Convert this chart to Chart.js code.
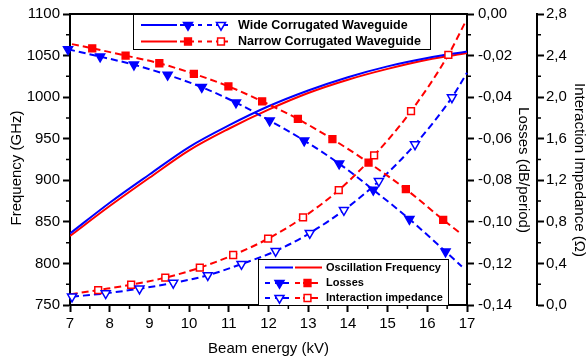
<!DOCTYPE html>
<html>
<head>
<meta charset="utf-8">
<script src="https://cdn.jsdelivr.net/npm/chart.js@4.4.1/dist/chart.umd.min.js"></script>
<style>
  html, body { margin: 0; padding: 0; background: #fff; }
  #wrap { width: 587px; height: 362px; }
</style>
</head>
<body>
<div id="wrap"><canvas id="chart"></canvas></div>
<script>
const FONT = `"Liberation Sans", Arial, sans-serif`
const BLUE = `#0000ff`
const RED = `#ff0000`

// oscillation frequency (GHz), read at whole kV
const beamEnergy = [7, 8, 9, 10, 11, 12, 13, 14, 15, 16, 17]
const wideFreq = [836, 873, 907, 940, 966, 989, 1008, 1024, 1037, 1047, 1055]
const narrowFreq = [833, 869, 903, 936, 962, 985, 1005, 1021, 1034, 1045, 1053]

// losses (dB/period)
const wideLossX = [6.95, 7.76, 8.61, 9.46, 10.32, 11.18, 12.03, 12.9, 13.78, 14.64, 15.55, 16.46]
const wideLossY = [-0.017, -0.0205, -0.0244, -0.0293, -0.0352, -0.0426, -0.0513, -0.0609, -0.072, -0.0846, -0.0987, -0.1143]
const narrowLossX = [7.56, 8.4, 9.25, 10.12, 10.99, 11.84, 12.74, 13.61, 14.52, 15.46, 16.4]
const narrowLossY = [-0.0165, -0.02, -0.0237, -0.0288, -0.0348, -0.042, -0.0505, -0.0602, -0.0715, -0.0843, -0.099]

// interaction impedance (ohm)
const wideImpX = [7.05, 7.9, 8.75, 9.6, 10.47, 11.32, 12.18, 13.04, 13.9, 14.78, 15.69, 16.62]
const wideImpY = [0.08, 0.112, 0.157, 0.212, 0.286, 0.394, 0.519, 0.692, 0.913, 1.192, 1.545, 1.997]
const narrowImpX = [7.71, 8.54, 9.4, 10.27, 11.11, 11.99, 12.87, 13.77, 14.66, 15.59, 16.53]
const narrowImpY = [0.144, 0.195, 0.263, 0.359, 0.481, 0.638, 0.843, 1.106, 1.439, 1.865, 2.407]

// where the dashed fit lines start / stop beyond the markers
const wideLossTail = [16.87, -0.1215]
const narrowLossHead = [7.05, -0.0145]
const narrowLossTail = [16.82, -0.1053]
const wideImpTail = [17.0, 2.234]
const narrowImpHead = [7.02, 0.103]
const narrowImpTail = [16.97, 2.731]

const pts = (xs, ys) => xs.map((x, i) => ({ x, y: ys[i] }))
const pt = (p) => ({ x: p[0], y: p[1] })

const solid = (label, data, color) => ({
  label, data, yAxisID: `y`, borderColor: color, borderWidth: 2,
  pointRadius: 0, tension: 0.4, cubicInterpolationMode: `monotone`, order: 2,
})
const dashed = (label, data, color, axis) => ({
  label, data, yAxisID: axis, borderColor: color, borderWidth: 2, borderDash: [7, 4],
  pointRadius: 0, cubicInterpolationMode: `monotone`, order: 1, clip: 8,
})
const marks = (label, data, color, axis, style, filled) => ({
  label, data, yAxisID: axis, showLine: false, order: 0, clip: 8,
  pointStyle: style, pointRotation: style === `triangle` ? 180 : 0,
  pointRadius: style === `triangle` ? 5.2 : 4.8,
  pointBackgroundColor: filled ? color : `#fff`, pointBorderColor: color, pointBorderWidth: 1.5,
})

const data = {
  datasets: [
    solid(`Wide freq`, pts(beamEnergy, wideFreq), BLUE),
    solid(`Narrow freq`, pts(beamEnergy, narrowFreq), RED),
    dashed(`Wide loss`, [...pts(wideLossX, wideLossY), pt(wideLossTail)], BLUE, `y1`),
    dashed(`Narrow loss`, [pt(narrowLossHead), ...pts(narrowLossX, narrowLossY), pt(narrowLossTail)], RED, `y1`),
    dashed(`Wide imp`, [...pts(wideImpX, wideImpY), pt(wideImpTail)], BLUE, `y2`),
    dashed(`Narrow imp`, [pt(narrowImpHead), ...pts(narrowImpX, narrowImpY), pt(narrowImpTail)], RED, `y2`),
    marks(`Wide loss pts`, pts(wideLossX, wideLossY), BLUE, `y1`, `triangle`, true),
    marks(`Narrow loss pts`, pts(narrowLossX, narrowLossY), RED, `y1`, `rect`, true),
    marks(`Wide imp pts`, pts(wideImpX, wideImpY), BLUE, `y2`, `triangle`, false),
    marks(`Narrow imp pts`, pts(narrowImpX, narrowImpY), RED, `y2`, `rect`, false),
  ],
}

const comma = (d) => (v) => (Math.abs(v) < 1e-9 ? 0 : v).toFixed(d).replace(`.`, `,`)

const axisBase = (extra) => ({
  type: `linear`,
  border: { color: `#000`, width: 2 },
  grid: { drawOnChartArea: false, tickLength: 7, tickWidth: 2, tickColor: `#000` },
  ...extra,
})

// small helpers for the hand drawn bits
function seg(ctx, x1, x2, y, color) {
  ctx.beginPath()
  ctx.moveTo(x1, y)
  ctx.lineTo(x2, y)
  ctx.strokeStyle = color
  ctx.lineWidth = 2
  ctx.stroke()
}
function marker(ctx, kind, x, y, color, filled) {
  ctx.beginPath()
  if (kind === `tri`) {
    const r = 5.2
    ctx.moveTo(x - r * 0.866, y - r / 2)
    ctx.lineTo(x + r * 0.866, y - r / 2)
    ctx.lineTo(x, y + r)
    ctx.closePath()
  } else {
    ctx.rect(x - 3.4, y - 3.4, 6.8, 6.8)
  }
  ctx.fillStyle = filled ? color : `#fff`
  ctx.fill()
  ctx.lineWidth = 1.5
  ctx.strokeStyle = color
  ctx.stroke()
}
function vtitle(ctx, text, x, y, angle) {
  ctx.save()
  ctx.translate(x, y)
  ctx.rotate(angle)
  ctx.fillText(text, 0, 0)
  ctx.restore()
}

const decor = {
  id: `decor`,
  afterDraw(chart) {
    const { ctx, chartArea: a, scales } = chart
    ctx.save()
    // top frame line
    ctx.beginPath()
    ctx.moveTo(a.left - 1, a.top)
    ctx.lineTo(a.right + 1, a.top)
    ctx.lineWidth = 2
    ctx.strokeStyle = `#000`
    ctx.stroke()

    // minor ticks
    ctx.lineWidth = 1.5
    ctx.beginPath()
    for (let v = 7.5; v < 17; v += 1) {
      const p = scales.x.getPixelForValue(v)
      ctx.moveTo(p, a.bottom); ctx.lineTo(p, a.bottom + 4)
    }
    for (let v = 775; v < 1100; v += 50) {
      const p = scales.y.getPixelForValue(v)
      ctx.moveTo(a.left - 4, p); ctx.lineTo(a.left, p)
    }
    for (let v = -0.13; v < 0; v += 0.02) {
      const p = scales.y1.getPixelForValue(v)
      ctx.moveTo(a.right, p); ctx.lineTo(a.right + 4, p)
    }
    for (let v = 0.2; v < 2.8; v += 0.4) {
      const p = scales.y2.getPixelForValue(v)
      ctx.moveTo(scales.y2.left, p); ctx.lineTo(scales.y2.left + 4, p)
    }
    ctx.stroke()

    // axis titles
    ctx.fillStyle = `#000`
    ctx.font = `15px ${FONT}`
    ctx.textAlign = `center`
    ctx.textBaseline = `middle`
    ctx.fillText(`Beam energy (kV)`, (a.left + a.right) / 2, 349)
    vtitle(ctx, `Frequency (GHz)`, 17, 168, -Math.PI / 2)
    vtitle(ctx, `Losses (dB/period)`, 523, 170, Math.PI / 2)
    vtitle(ctx, `Interaction Impedance (\u03A9)`, 579, 170, Math.PI / 2)

    // top legend box
    ctx.fillStyle = `#fff`
    ctx.fillRect(133, 14, 298, 36)
    ctx.lineWidth = 1
    ctx.strokeStyle = `#000`
    ctx.strokeRect(133.5, 14.5, 297, 35)
    const rows = [[25, BLUE, `tri`, `Wide Corrugated Waveguide`], [41.5, RED, `sq`, `Narrow Corrugated Waveguide`]]
    for (const [y, c, k, text] of rows) {
      seg(ctx, 141, 177, y, c)
      seg(ctx, 180, 194, y, c)
      seg(ctx, 198, 202, y, c)
      seg(ctx, 207, 212, y, c)
      seg(ctx, 216, 228, y, c)
      marker(ctx, k, 188, y, c, true)
      marker(ctx, k, 221, y, c, false)
      ctx.fillStyle = `#000`
      ctx.font = `bold 12.5px ${FONT}`
      ctx.textAlign = `left`
      ctx.fillText(text, 238, y + 0.5)
    }

    // bottom legend box
    ctx.fillStyle = `#fff`
    ctx.fillRect(258, 259, 191, 46)
    ctx.lineWidth = 1
    ctx.strokeStyle = `#000`
    ctx.strokeRect(258.5, 259.5, 190, 46)
    seg(ctx, 265, 293, 267.5, BLUE)
    seg(ctx, 295, 322, 267.5, RED)
    const rows2 = [[283, true, `Losses`], [298, false, `Interaction impedance`]]
    for (const [y, filled] of rows2) {
      seg(ctx, 265, 270, y, BLUE)
      seg(ctx, 275, 289, y, BLUE)
      marker(ctx, `tri`, 279.5, y, BLUE, filled)
      seg(ctx, 295, 300, y, RED)
      seg(ctx, 303, 318, y, RED)
      marker(ctx, `sq`, 307.5, y, RED, filled)
    }
    ctx.fillStyle = `#000`
    ctx.font = `bold 11px ${FONT}`
    ctx.textAlign = `left`
    ctx.fillText(`Oscillation Frequency`, 326, 268)
    ctx.fillText(`Losses`, 326, 283)
    ctx.fillText(`Interaction impedance`, 326, 298)
    ctx.restore()
  },
}

Chart.defaults.color = `#000`
Chart.defaults.font.family = FONT
Chart.defaults.font.size = 15

const config = {
  type: `line`,
  data,
  options: {
    responsive: true,
    maintainAspectRatio: false,
    animation: false,
    layout: { padding: { top: 14, left: 0, right: 0, bottom: 0 } },
    scales: {
      x: axisBase({
        position: `bottom`, min: 7, max: 17,
        ticks: { stepSize: 1, padding: 3 },
        afterFit: (s) => { s.height = 57 },
      }),
      y: axisBase({
        position: `left`, min: 750, max: 1100,
        ticks: { stepSize: 50, padding: 3, callback: (v) => String(v) },
        afterFit: (s) => { s.width = 70 },
      }),
      y1: axisBase({
        position: `right`, min: -0.14, max: 0, weight: 0,
        ticks: { stepSize: 0.02, padding: 4, callback: comma(2) },
        afterFit: (s) => { s.width = 70 },
      }),
      y2: axisBase({
        position: `right`, min: 0, max: 2.8, weight: 1,
        ticks: { stepSize: 0.4, padding: 2, callback: comma(1) },
        afterFit: (s) => { s.width = 50 },
      }),
    },
    plugins: {
      legend: { display: false },
      tooltip: { enabled: false },
    },
  },
  plugins: [decor],
}

new Chart(document.querySelector(`#chart`), config)
</script>
</body>
</html>
